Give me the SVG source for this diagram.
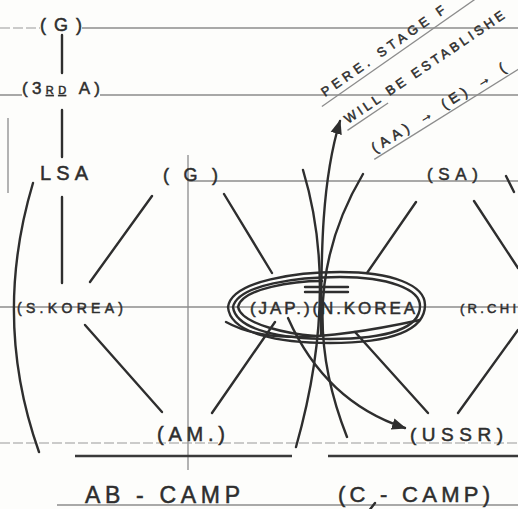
<svg xmlns="http://www.w3.org/2000/svg" width="518" height="509" viewBox="0 0 518 509">
<defs>
<style>
.rule{stroke:#8c8c8c;stroke-width:1.3;fill:none}
.dash{stroke:#9a9a9a;stroke-width:1.2;fill:none;stroke-dasharray:10 3}
.ink{stroke:#2e2e2e;stroke-width:2.4;fill:none;stroke-linecap:round}
.thick{stroke:#3a3a3a;stroke-width:2.6;fill:none}
.lbl{font-family:"Liberation Sans",Arial,sans-serif;fill:#2e2e2e;stroke:#2e2e2e;stroke-width:0.5}
</style>
<marker id="ah" viewBox="0 0 10 10" refX="9" refY="5" markerWidth="6" markerHeight="6" orient="auto">
<path d="M0,1 L10,5 L0,9 Z" fill="#2e2e2e"/>
</marker>
</defs>
<rect width="518" height="509" fill="#fdfdfb"/>

<g id="rules">
<path class="dash" d="M0,28 H40"/>
<path class="rule" d="M82,28 H518"/>
<path class="rule" d="M0,95 H22 M100,95 H518"/>
<path class="rule" d="M188,181 H518"/>
<path class="rule" d="M188,155 V470"/>
<path class="rule" d="M0,307 H518"/>
<path class="dash" d="M0,443 H518"/>
<path class="thick" d="M75,456 H292 M328,456 H518"/>
<path class="rule" d="M57,505 H518"/>
<path class="rule" d="M8,118 V193"/>
</g>

<g id="connectors">
<path class="ink" d="M62,35 V73"/>
<path class="ink" d="M62,110 V157"/>
<path class="ink" d="M62,197 V283"/>
<path class="ink" d="M33,183 Q-8,320 39,452"/>
<path class="ink" d="M152,196 L90,282"/>
<path class="ink" d="M224,194 L272,273"/>
<path class="ink" d="M416,202 L367,273"/>
<path class="ink" d="M474,201 L518,268"/>
<path class="ink" d="M506,176 L514,192"/>
<path class="ink" d="M85,325 L162,412"/>
<path class="ink" d="M212,413 L275,322"/>
<path class="ink" d="M355,332 L428,413"/>
<path class="ink" d="M458,413 L518,330"/>
<path class="ink" d="M303,170 Q340,292 296,447"/>
<path class="ink" d="M363,174 Q291,295 347,437"/>
<path class="ink" d="M321,335 C321,250 322,180 340,121" marker-end="url(#ah)"/>
<path class="ink" d="M288,318 C312,372 350,410 405,428" marker-end="url(#ah)"/>
<path class="ink" d="M305,287 H348 M305,292 H348"/>
<path class="ink" d="M375,503 L368,512"/>
</g>

<g id="ellipse">
<path class="ink" d="M228,307 C232,280 300,272 340,272 C392,272 425,285 425,305 C425,330 392,343 330,343 C280,343 230,334 228,307 Z"/>
<path class="ink" stroke-width="1.6" d="M233,307 C238,284 300,277 340,277 C388,277 420,289 420,306 C420,328 388,339 330,339 C282,339 236,330 233,307 Z"/>
<path class="ink" stroke-width="1.4" d="M238,307 C242,288 295,281 322,281 M238,307 C242,325 290,334 315,336"/>
<path class="ink" stroke-width="1.4" d="M226,322 C255,338 300,346 420,320"/>
</g>

<g id="n-g-top"><text class="lbl" x="40" y="31" font-size="18" textLength="42">(G)</text></g>
<g id="n-3rda"><text class="lbl" x="22" y="94" font-size="17" textLength="78">(3<tspan font-size="11" text-decoration="underline">RD</tspan> A)</text></g>
<g id="n-lsa"><text class="lbl" x="40" y="180" font-size="20" textLength="48">LSA</text></g>
<g id="n-g-mid"><text class="lbl" x="163" y="181" font-size="18" textLength="55">( G )</text></g>
<g id="n-sa"><text class="lbl" x="427" y="180" font-size="17" textLength="51">(SA)</text></g>
<g id="n-skorea"><text class="lbl" x="17" y="313" font-size="14" textLength="106">(S.KOREA)</text></g>
<g id="n-jap-nkorea"><text class="lbl" x="250" y="314" font-size="17" textLength="165">(JAP.)(N.KOREA</text></g>
<g id="n-rchina"><text class="lbl" x="460" y="313" font-size="13" textLength="56">(R.CHI</text></g>
<g id="n-am"><text class="lbl" x="157" y="441" font-size="20" textLength="68">(AM.)</text></g>
<g id="n-ussr"><text class="lbl" x="410" y="441" font-size="19" textLength="93">(USSR)</text></g>
<g id="n-abcamp"><text class="lbl" x="85" y="503" font-size="23" textLength="155">AB - CAMP</text></g>
<g id="n-ccamp"><text class="lbl" x="338" y="502" font-size="22" textLength="152">(C - CAMP)</text></g>

<g id="note">
<g transform="translate(325,97) rotate(-35)">
<text class="lbl" x="0" y="0" font-size="13" textLength="128">PERE. STAGE</text>
<text class="lbl" x="140" y="0" font-size="13">F</text>
<path class="rule" stroke="#444" d="M-8,6 H240"/>
</g>
<g transform="translate(348,124) rotate(-34)">
<text class="lbl" x="0" y="0" font-size="13" textLength="190">WILL BE ESTABLISHE</text>
<path class="rule" stroke="#444" d="M-4,5 H45"/>
</g>
<g transform="translate(375,153) rotate(-32)">
<text class="lbl" x="0" y="0" font-size="14" textLength="155">(AA) → (E) → (</text>
<path class="rule" stroke="#444" d="M-4,5 H200"/>
</g>
</g>
</svg>
